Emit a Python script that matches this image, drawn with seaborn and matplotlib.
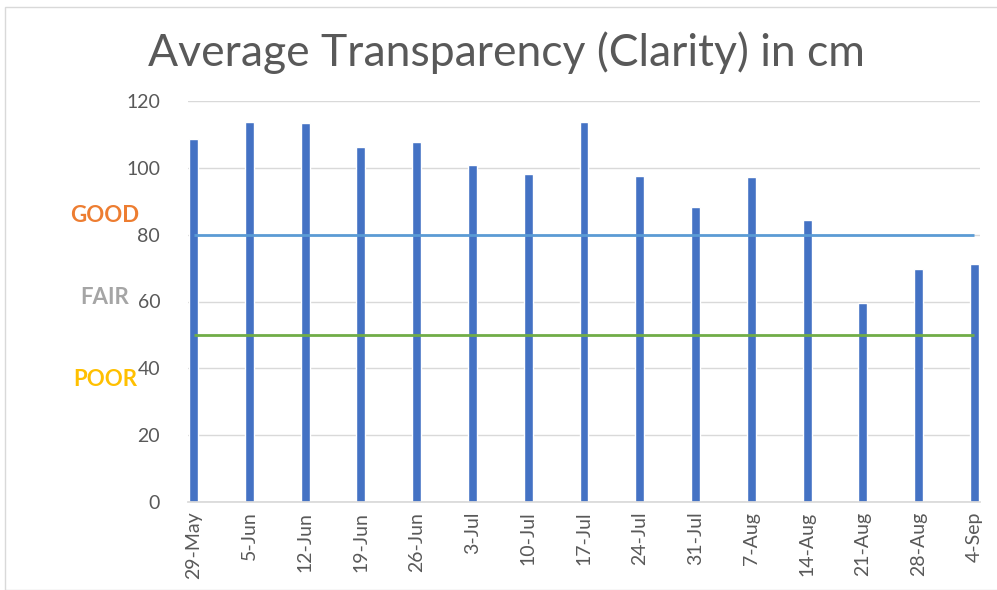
import pandas as pd
import seaborn as sns
import matplotlib.pyplot as plt
from matplotlib.patches import Rectangle

# data
dates = ["29-May", "5-Jun", "12-Jun", "19-Jun", "26-Jun", "3-Jul", "10-Jul", "17-Jul",
         "24-Jul", "31-Jul", "7-Aug", "14-Aug", "21-Aug", "28-Aug", "4-Sep"]
clarity = [108.6, 113.7, 113.4, 106.3, 107.7, 100.8, 98.2, 113.7,
           97.6, 88.3, 97.3, 84.4, 59.7, 69.6, 71.3]
good_level = 80
poor_level = 50
zone_names = ["GOOD", "FAIR", "POOR"]
zone_y = [85.6, 61.3, 36.8]
zone_colors = ["#ED7D31", "#A5A5A5", "#FFC000"]

df = pd.DataFrame({"date": dates, "clarity": clarity})

sns.set_theme(style="white")
plt.rcParams["font.family"] = ["Lato", "DejaVu Sans"]

fig = plt.figure(figsize=(9.97, 5.9), dpi=100)
ax = fig.add_axes([188 / 997, 1 - 502 / 590, 792 / 997, 401 / 590])

sns.barplot(data=df, x="date", y="clarity", color="#4472C4", saturation=1,
            width=0.16, ax=ax)

# threshold lines
ax.hlines(good_level, 0, len(dates) - 1, color="#5B9BD5", lw=2, zorder=3)
ax.hlines(poor_level, 0, len(dates) - 1, color="#70AD47", lw=2, zorder=3)

ax.set_xlim(-0.1, len(dates) - 1 + 0.1)
ax.set_ylim(0, 120)
ax.set_yticks(range(0, 121, 20))
ax.yaxis.grid(True, color="#D9D9D9", lw=1)
ax.set_axisbelow(True)
for s in ["top", "right", "left"]:
    ax.spines[s].set_visible(False)
ax.spines["bottom"].set_color("#D9D9D9")
ax.set_xlabel("")
ax.set_ylabel("")
ax.tick_params(axis="x", rotation=90, labelsize=14, labelcolor="#595959", length=0, pad=7)
ax.tick_params(axis="y", labelsize=14, labelcolor="#595959", length=0, pad=20)

for name, y, c in zip(zone_names, zone_y, zone_colors):
    ax.text(-0.105, y, name, transform=ax.get_yaxis_transform(), ha="center", va="center",
            color=c, fontsize=16, fontweight="bold")

fig.text(0.508, 1 - 53 / 590, "Average Transparency (Clarity) in cm", ha="center", va="center",
         fontsize=32, color="#595959")

fig.patches.append(Rectangle((5 / 997, 0), 1, 1 - 7 / 590, transform=fig.transFigure,
                             fill=False, edgecolor="#D9D9D9", lw=1))

fig.savefig("out.png", dpi=100)
